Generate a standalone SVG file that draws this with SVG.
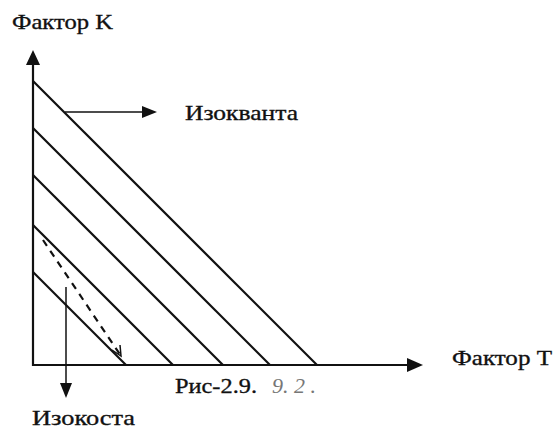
<svg xmlns="http://www.w3.org/2000/svg" width="556" height="432" viewBox="0 0 556 432">
<defs>
<style>
.t{font-family:"Liberation Serif","Times New Roman",serif;font-size:22px;fill:#111;stroke:#111;stroke-width:0.35}
.hw{font-family:"Liberation Serif",serif;font-style:italic;font-size:22px;fill:#777}
.ax{stroke:#111;stroke-width:2.2;fill:none}
.ln{stroke:#111;stroke-width:2.2;fill:none}
.ar{stroke:#111;stroke-width:1.5;fill:none}
.hd{fill:#111;stroke:none}
</style>
</defs>
<rect width="556" height="432" fill="#fff"/>
<g id="axes">
<line class="ax" x1="33" y1="60" x2="33" y2="366"/>
<line class="ax" x1="32" y1="365" x2="412" y2="365"/>
<polygon class="hd" points="33,50 26,65 40,65"/>
<polygon class="hd" points="423,365 407,358 407,372"/>
</g>
<g id="isoquants">
<line class="ln" x1="33" y1="81" x2="317" y2="365"/>
<line class="ln" x1="33" y1="128" x2="270" y2="365"/>
<line class="ln" x1="33" y1="175" x2="223" y2="365"/>
<line class="ln" x1="33" y1="225" x2="173" y2="365"/>
<line class="ln" x1="33" y1="272" x2="126" y2="365"/>
</g>
<g id="isocost">
<line class="ln" x1="43" y1="240" x2="121" y2="356" stroke-dasharray="7 6" stroke-width="2.6"/>
<polyline class="ar" points="112,350 121,356 120,345" stroke-width="2"/>
</g>
<g id="connectors">
<line class="ar" x1="65" y1="112" x2="145" y2="112"/>
<polygon class="hd" points="157,112 142,106 142,118"/>
<line class="ar" x1="66" y1="287" x2="66" y2="385"/>
<polygon class="hd" points="66,398 60,383 72,383"/>
</g>
<g id="labels">
<text class="t" x="12" y="29" textLength="101" lengthAdjust="spacingAndGlyphs">Фактор K</text>
<text class="t" x="185" y="120" textLength="113" lengthAdjust="spacingAndGlyphs">Изокванта</text>
<text class="t" x="452" y="365" textLength="100" lengthAdjust="spacingAndGlyphs">Фактор Т</text>
<text class="t" x="32" y="425" textLength="103" lengthAdjust="spacingAndGlyphs">Изокоста</text>
<text class="t" x="175" y="393" textLength="82" lengthAdjust="spacingAndGlyphs">Рис-2.9.</text>
<text class="hw" x="272" y="393">9. 2 .</text>
</g>
</svg>
